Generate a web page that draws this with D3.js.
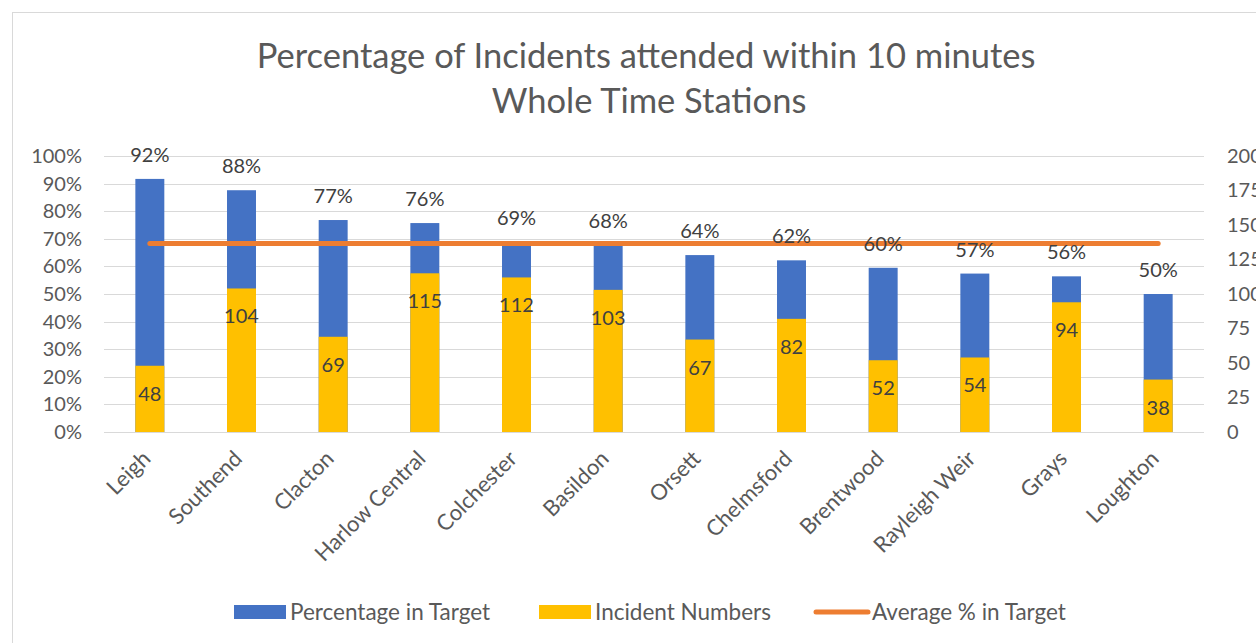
<!DOCTYPE html>
<head>
<meta charset="utf-8">
<script src="https://d3js.org/d3.v7.min.js"></script>
<style>
body { margin: 0; background: #fff; }
svg text { font-family: Lato, "Open Sans", sans-serif; }
.grid line { stroke: #d9d9d9; }
.tick text { fill: #595959; font-size: 20px; }
</style>
</head>
<body>
<div id="chart"></div>
<script>
// Data
const stations = ["Leigh", "Southend", "Clacton", "Harlow Central", "Colchester", "Basildon",
  "Orsett", "Chelmsford", "Brentwood", "Rayleigh Weir", "Grays", "Loughton"];
const pctInTarget = [91.7, 87.6, 76.8, 75.7, 68.9, 67.6, 64.1, 62.2, 59.5, 57.4, 56.4, 50.0];
const incidents = [48, 104, 69, 115, 112, 103, 67, 82, 52, 54, 94, 38];
const averagePct = [68.3, 68.3, 68.3, 68.3, 68.3, 68.3, 68.3, 68.3, 68.3, 68.3, 68.3, 68.3];
const leftTicks = [0, 10, 20, 30, 40, 50, 60, 70, 80, 90, 100];
const rightTicks = [0, 25, 50, 75, 100, 125, 150, 175, 200];

const W = 1256, H = 643;
const plot = {left: 104, right: 1204, top: 156, bottom: 432};

const svg = d3.select("#chart").append("svg")
    .attr("width", W)
    .attr("height", H);

// chart frame
svg.append("rect")
    .attr("x", 12.5).attr("y", 12.5)
    .attr("width", 1400).attr("height", 800)
    .attr("fill", "#fff")
    .attr("stroke", "#d9d9d9");

let x = d3.scaleBand().domain(stations)
    .range([plot.left, plot.right])
    .paddingInner(0.684).paddingOuter(0.342);
let yL = d3.scaleLinear().domain([0, 100]).range([plot.bottom, plot.top]);
let yR = d3.scaleLinear().domain([0, 200]).range([plot.bottom, plot.top]);

// title
svg.append("text")
    .attr("x", 646).attr("y", 68)
    .attr("text-anchor", "middle")
    .attr("fill", "#595959")
    .style("font-size", "34.5px")
    .text("Percentage of Incidents attended within 10 minutes");
svg.append("text")
    .attr("x", 649).attr("y", 113)
    .attr("text-anchor", "middle")
    .attr("fill", "#595959")
    .style("font-size", "34.5px")
    .text("Whole Time Stations");

// grid
svg.append("g").attr("class", "grid")
  .selectAll("line")
  .data(leftTicks)
  .join("line")
    .attr("x1", plot.left).attr("x2", plot.right)
    .attr("y1", d => Math.round(yL(d)) + 0.5)
    .attr("y2", d => Math.round(yL(d)) + 0.5);

// axes
let axL = svg.append("g")
    .attr("transform", "translate(" + plot.left + ",0)")
    .call(d3.axisLeft(yL).tickValues(leftTicks).tickFormat(d => d + "%").tickSize(0).tickPadding(22));
axL.select(".domain").remove();

let axR = svg.append("g")
    .attr("transform", "translate(" + plot.right + ",0)")
    .call(d3.axisRight(yR).tickValues(rightTicks).tickSize(0).tickPadding(23));
axR.select(".domain").remove();

// blue bars
svg.append("g").selectAll("rect")
  .data(stations)
  .join("rect")
    .attr("x", d => x(d))
    .attr("width", x.bandwidth())
    .attr("y", (d, i) => yL(pctInTarget[i]))
    .attr("height", (d, i) => plot.bottom - yL(pctInTarget[i]))
    .attr("fill", "#4472c4");

// yellow bars
svg.append("g").selectAll("rect")
  .data(stations)
  .join("rect")
    .attr("x", d => x(d))
    .attr("width", x.bandwidth())
    .attr("y", (d, i) => yR(incidents[i]))
    .attr("height", (d, i) => plot.bottom - yR(incidents[i]))
    .attr("fill", "#ffc000");

// average line
let line = d3.line()
    .x((d, i) => x(stations[i]) + x.bandwidth() / 2)
    .y(d => yL(d));
svg.append("path")
    .datum(averagePct)
    .attr("d", line)
    .attr("fill", "none")
    .attr("stroke", "#ed7d31")
    .attr("stroke-width", 5)
    .attr("stroke-linecap", "round");

// labels
svg.append("g").selectAll("text")
  .data(stations)
  .join("text")
    .attr("x", d => x(d) + x.bandwidth() / 2)
    .attr("y", (d, i) => yL(pctInTarget[i]) - 17)
    .attr("text-anchor", "middle")
    .attr("fill", "#404040")
    .style("font-size", "20px")
    .text((d, i) => Math.round(pctInTarget[i]) + "%");

svg.append("g").selectAll("text")
  .data(stations)
  .join("text")
    .attr("x", d => x(d) + x.bandwidth() / 2)
    .attr("y", (d, i) => yR(incidents[i]) + 35)
    .attr("text-anchor", "middle")
    .attr("fill", "#404040")
    .style("font-size", "20px")
    .text((d, i) => incidents[i]);

// category labels
svg.append("g").selectAll("text")
  .data(stations)
  .join("text")
    .attr("transform", d => "translate(" + (x(d) + x.bandwidth() / 2 + 2) + ",460) rotate(-45)")
    .attr("text-anchor", "end")
    .attr("fill", "#595959")
    .style("font-size", "22px")
    .text(d => d);

// legend
let legend = [
  {name: "Percentage in Target", color: "#4472c4", type: "rect", x: 234},
  {name: "Incident Numbers", color: "#ffc000", type: "rect", x: 539},
  {name: "Average % in Target", color: "#ed7d31", type: "line", x: 814}
];
let lg = svg.append("g").selectAll("g")
  .data(legend)
  .join("g")
    .attr("transform", d => "translate(" + d.x + ",612)");
lg.filter(d => d.type == "rect").append("rect")
    .attr("y", -7).attr("width", 52).attr("height", 14)
    .attr("fill", d => d.color);
lg.filter(d => d.type == "line").append("line")
    .attr("x1", 2).attr("x2", 54)
    .attr("stroke", d => d.color)
    .attr("stroke-width", 5)
    .attr("stroke-linecap", "round");
lg.append("text")
    .attr("x", d => d.type == "rect" ? 56 : 58)
    .attr("y", 8)
    .attr("fill", "#595959")
    .style("font-size", "22.5px")
    .text(d => d.name);
</script>
</body>
